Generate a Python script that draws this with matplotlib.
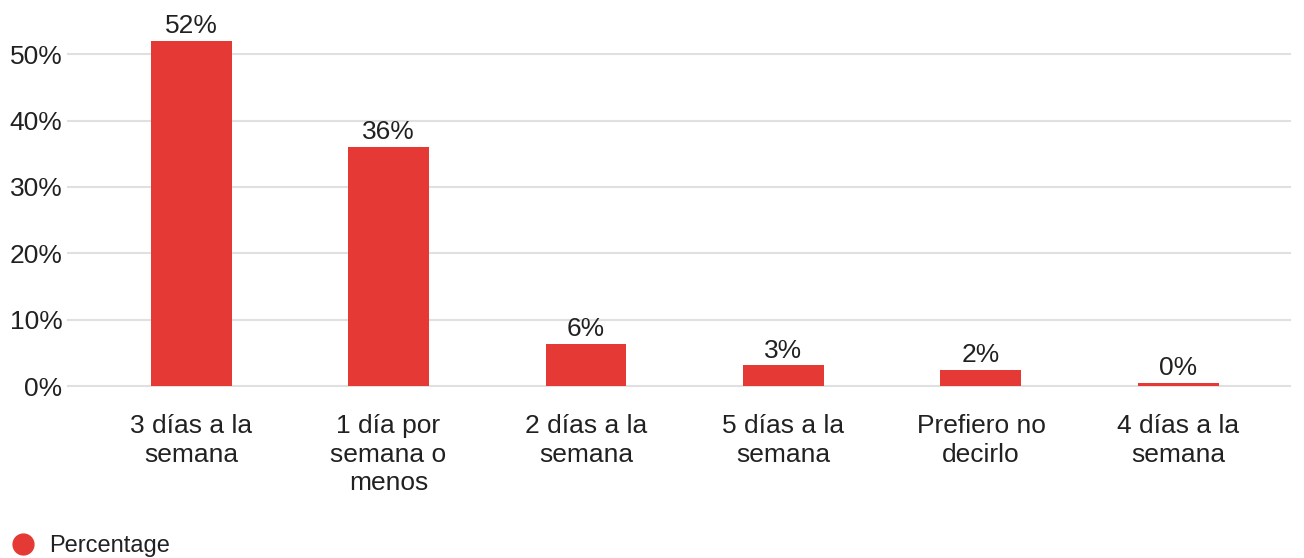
import matplotlib
matplotlib.use("Agg")
import matplotlib.pyplot as plt
from matplotlib.lines import Line2D

categories = ["3 días a la\nsemana", "1 día por\nsemana o\nmenos", "2 días a la\nsemana",
              "5 días a la\nsemana", "Prefiero no\ndecirlo", "4 días a la\nsemana"]
values = [52.0, 36.0, 6.3, 3.1, 2.4, 0.5]
value_labels = ["52%", "36%", "6%", "3%", "2%", "0%"]
yticks = [0, 10, 20, 30, 40, 50]
ytick_labels = ["0%", "10%", "20%", "30%", "40%", "50%"]
series_name = "Percentage"

plt.rcParams['font.family'] = ['Liberation Sans', 'DejaVu Sans']
RED = "#e53935"
TXT = "#212121"
FS = 19

W, H = 1304, 558
fig = plt.figure(figsize=(W / 100, H / 100), dpi=100)
left, right, bottom, top = 68, 1290, 386, 21
ax = fig.add_axes([left / W, 1 - bottom / H, (right - left) / W, (bottom - top) / H])

x = list(range(len(categories)))
ax.bar(x, values, width=0.41, color=RED, zorder=3)
for xi, v, lab in zip(x, values, value_labels):
    ax.annotate(lab, (xi, v), xytext=(0, 2), textcoords="offset points",
                ha="center", va="bottom", fontsize=FS, color=TXT)

ax.set_xlim(-0.623, 5.565)
ax.set_ylim(0, 55)
ax.set_yticks(yticks)
ax.set_yticklabels(ytick_labels, fontsize=FS, color=TXT)
for t in yticks:
    ax.axhline(t, color="#e0e0e0", lw=1.5, zorder=1, clip_on=False)
ax.set_xticks(x)
ax.set_xticklabels(categories, fontsize=FS, color=TXT, linespacing=1.23, va="top")
ax.tick_params(axis="both", length=0)
ax.tick_params(axis="x", pad=20.5)
ax.tick_params(axis="y", pad=4)
for s in ax.spines.values():
    s.set_visible(False)

handle = Line2D([], [], marker="o", color="none", markerfacecolor=RED, markeredgecolor=RED, markersize=15)
fig.legend([handle], [series_name], loc="center left", bbox_to_anchor=(11 / W, 1 - 546 / H),
           frameon=False, fontsize=17, handletextpad=0.6, handlelength=1.0, labelcolor=TXT,
           borderaxespad=0, borderpad=0)

fig.savefig("out.png", dpi=100, facecolor="white")
